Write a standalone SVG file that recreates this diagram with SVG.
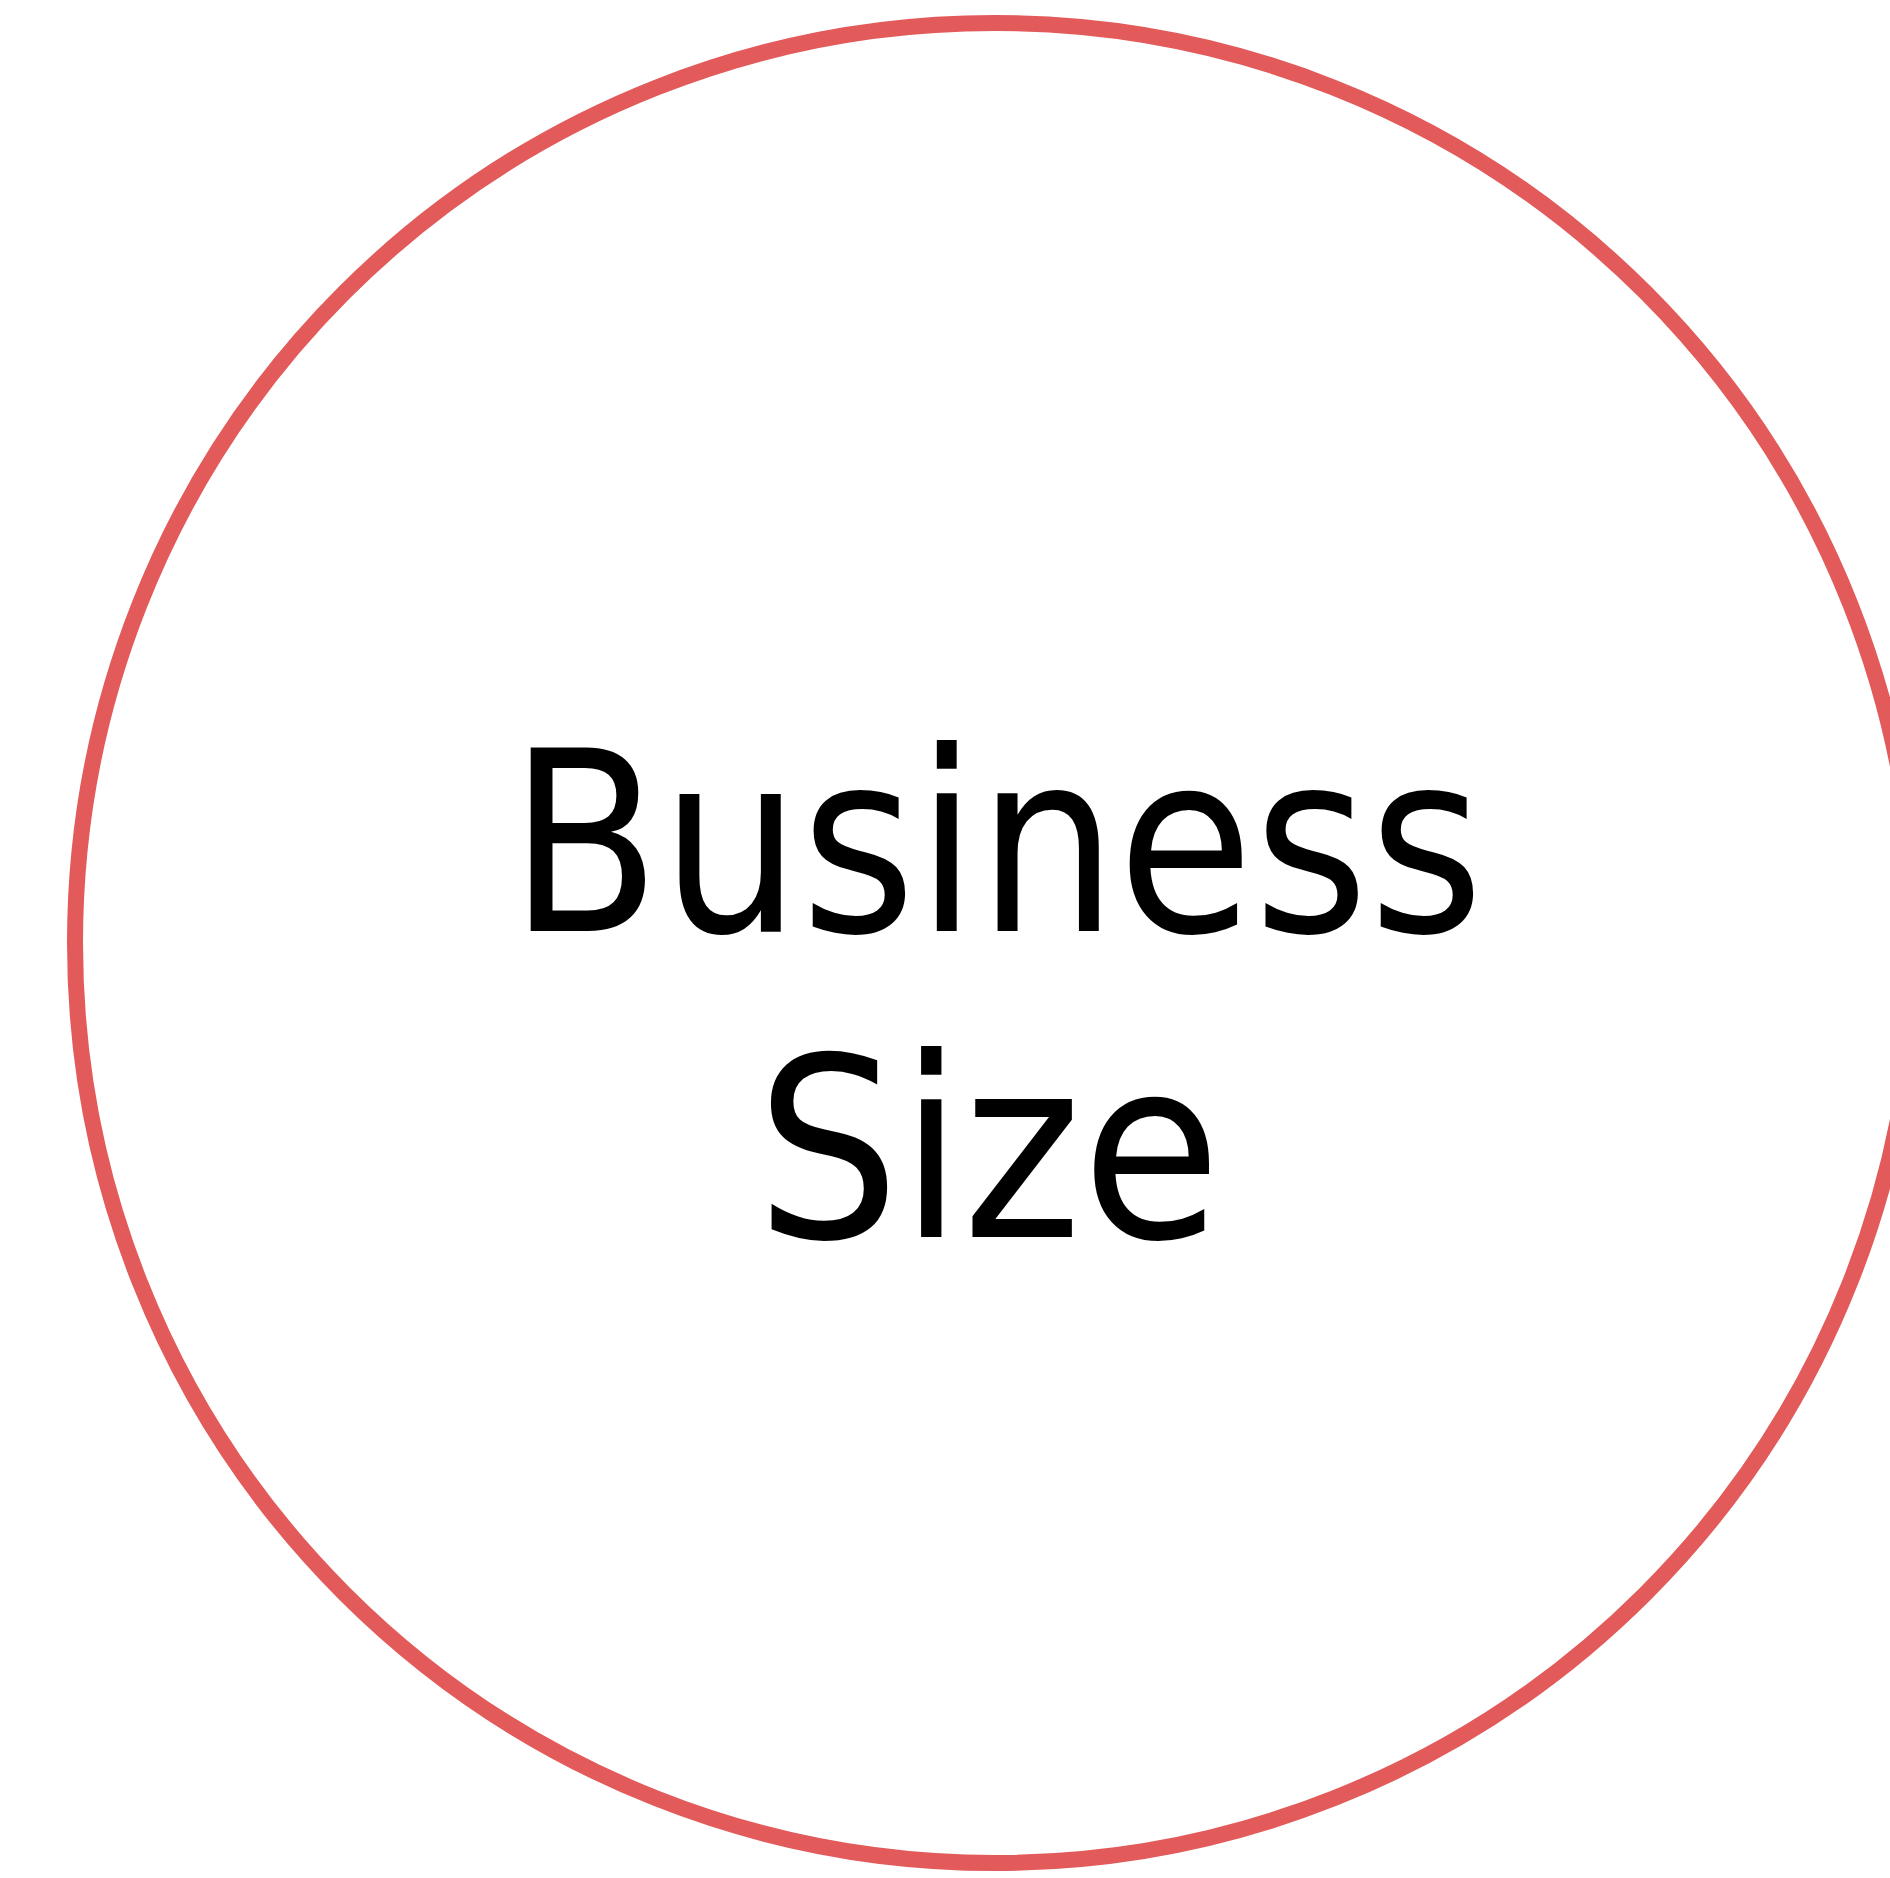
<svg xmlns="http://www.w3.org/2000/svg" width="1890" height="1878" viewBox="0 0 1890 1878">
<style>
.ring{fill:none;stroke:#E25A5A;stroke-width:16}
.lbl{font-family:"Century Gothic","URW Gothic","DejaVu Sans",sans-serif;font-size:252px;fill:#000}
</style>
<rect width="1890" height="1878" fill="#fff"/>
<g id="node-business-size">
<circle class="ring" cx="995" cy="943" r="920"/>
<text class="lbl" x="509" y="931" textLength="975" lengthAdjust="spacingAndGlyphs">Business</text>
<text class="lbl" x="756" y="1237" textLength="465" lengthAdjust="spacingAndGlyphs">Size</text>
</g>
<g id="connectors"></g>
</svg>
